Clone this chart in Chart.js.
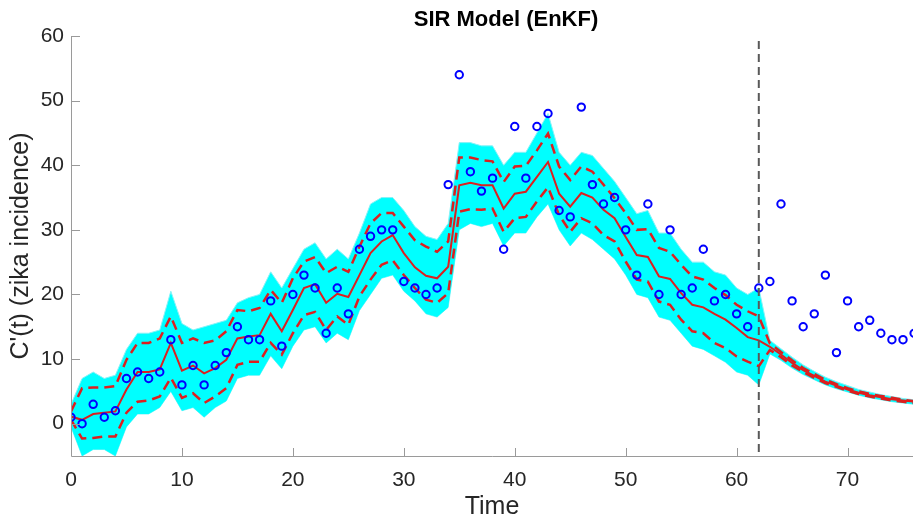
<!DOCTYPE html>
<html>
<head>
<meta charset="utf-8">
<title>SIR Model (EnKF)</title>
<script src="https://cdn.jsdelivr.net/npm/chart.js@4.4.0/dist/chart.umd.min.js"></script>
<style>
  html, body { margin: 0; padding: 0; background: #fff; overflow: hidden; }
  #wrap { width: 913px; height: 523px; }
</style>
</head>
<body>
<div id="wrap"><canvas id="sirChart"></canvas></div>
<script>
// ─── DATA ────────────────────────────────────
const days = [
   0,  1,  2,  3,  4,  5,  6,  7,  8,  9, 10, 11, 12, 13, 14, 15, 16, 17, 18, 19,
  20, 21, 22, 23, 24, 25, 26, 27, 28, 29, 30, 31, 32, 33, 34, 35, 36, 37, 38, 39,
  40, 41, 42, 43, 44, 45, 46, 47, 48, 49, 50, 51, 52, 53, 54, 55, 56, 57, 58, 59,
  60, 61, 62, 63, 64, 65, 66, 67, 68, 69, 70, 71, 72, 73, 74, 75, 76
];

// observed zika incidence (blue circles)
const observed = [
   1,  0,  3,  1,  2,  7,  8,  7,  8, 13,  6,  9,  6,  9, 11, 15, 13, 13, 19, 12,
  20, 23, 21, 14, 21, 17, 27, 29, 30, 30, 22, 21, 20, 21, 37, 54, 39, 36, 38, 27,
  46, 38, 46, 48, 33, 32, 49, 37, 34, 35, 30, 23, 34, 20, 30, 20, 21, 27, 19, 20,
  17, 15, 21, 22, 34, 19, 15, 17, 23, 11, 19, 15, 16, 14, 13, 13, 14
];

// ensemble mean (solid red)
const ensMean = [
   1.1,  0.6,  1.5,  1.7,  1.9,  5.3,  8.0,  8.0,  8.4, 12.5,  8.2,  9.0,  7.8,  8.6,  9.9, 13.2, 13.5, 13.7, 17.0, 14.3,
  17.6, 21.0, 21.6, 18.7, 20.1, 19.6, 23.0, 26.4, 28.2, 29.2, 26.4, 24.2, 22.9, 22.5, 24.3, 36.9, 37.3, 36.9, 36.9, 33.3,
  35.6, 35.9, 38.2, 40.5, 35.6, 33.6, 35.7, 35.0, 33.1, 31.8, 28.9, 26.1, 25.8, 22.8, 22.4, 20.2, 18.4, 18.0, 17.0, 16.1,
  14.8, 13.4, 12.9, 11.9, 10.7,  9.4,  8.3,  7.4,  6.5,  5.9,  5.3,  4.8,  4.4,  4.1,  3.8,  3.6,  3.4
];

// confidence bounds (dashed red)
const ensUpper = [
   1.9,  5.5,  5.6,  5.6,  5.8,  9.9, 12.5, 12.5, 13.2, 16.6, 12.5, 13.2, 12.5, 12.9, 14.3, 17.6, 17.4, 17.9, 20.7, 18.7,
  22.5, 25.1, 25.8, 23.3, 24.3, 23.5, 27.4, 31.0, 32.6, 32.6, 30.5, 28.4, 27.4, 26.6, 28.2, 41.2, 41.2, 40.8, 40.6, 37.4,
  39.8, 39.9, 42.3, 44.9, 39.8, 37.7, 39.8, 39.0, 37.0, 34.9, 32.6, 30.0, 30.1, 27.2, 26.6, 24.6, 22.8, 22.3, 21.0, 19.9,
  18.4, 17.4, 16.6, 12.4, 11.1,  9.8,  8.6,  7.7,  6.8,  6.1,  5.5,  5.0,  4.6,  4.3,  4.0,  3.7,  3.5
];
const ensLower = [
   0.6, -2.3, -2.2, -2.0, -2.0,  1.7,  3.4,  3.6,  4.2,  7.1,  4.0,  4.7,  3.2,  4.2,  5.5,  9.1,  9.6,  9.6, 12.5, 10.7,
  14.0, 16.8, 17.3, 14.5, 16.6, 15.3, 19.7, 22.3, 24.6, 25.3, 23.0, 21.0, 19.2, 18.7, 20.2, 32.8, 33.2, 33.1, 33.3, 29.7,
  31.8, 32.0, 34.4, 36.6, 32.3, 29.7, 31.8, 31.0, 29.2, 28.2, 25.1, 22.3, 22.0, 18.9, 18.4, 16.1, 14.3, 14.0, 12.5, 11.7,
  10.4,  9.6,  8.9, 11.4, 10.3,  9.0,  8.0,  7.1,  6.3,  5.7,  5.1,  4.6,  4.2,  3.9,  3.6,  3.4,  3.2
];

// outer envelope of the ensemble members (cyan)
const ensMax = [
   3.0,  7.0,  8.0,  7.0,  7.5, 11.5, 14.0, 14.0, 14.5, 20.5, 15.5, 14.5, 15.0, 15.5, 16.0, 18.7, 19.5, 20.0, 23.5, 21.0,
  24.0, 27.0, 28.0, 25.5, 27.0, 25.5, 29.5, 34.0, 35.0, 35.0, 33.0, 30.5, 29.0, 28.5, 31.0, 43.5, 43.5, 43.0, 43.0, 40.0,
  42.0, 42.0, 45.0, 48.0, 42.0, 40.0, 42.0, 41.5, 39.5, 37.5, 35.0, 32.5, 33.0, 29.5, 29.5, 27.0, 25.0, 25.0, 23.5, 23.0,
  21.0, 20.0, 21.0, 12.9, 11.6, 10.3,  9.1,  8.1,  7.2,  6.5,  5.9,  5.3,  4.9,  4.5,  4.2,  3.9,  3.7
];
const ensMin = [
  -0.5, -5.0, -4.0, -4.0, -5.0, -0.5,  1.5,  1.5,  2.5,  5.0,  2.0,  2.5,  1.0,  2.5,  3.5,  7.0,  7.5,  7.5, 10.5,  8.5,
  12.0, 14.5, 15.0, 12.5, 14.0, 13.0, 17.5, 20.0, 22.5, 23.0, 20.5, 19.0, 17.0, 16.5, 18.0, 30.0, 31.0, 30.5, 31.0, 27.5,
  29.5, 29.5, 32.0, 34.0, 30.0, 27.5, 29.5, 28.5, 27.0, 25.5, 23.0, 20.0, 19.5, 16.5, 16.0, 14.0, 12.0, 11.5, 10.5,  9.5,
   8.0,  7.5,  6.0, 10.8,  9.8,  8.6,  7.6,  6.8,  6.0,  5.4,  4.9,  4.4,  4.0,  3.7,  3.4,  3.2,  3.0
];

const forecastStart = 62;
const xTicks = [0, 10, 20, 30, 40, 50, 60, 70];
const yTicks = [0, 10, 20, 30, 40, 50, 60];

// ─── CHART ───────────────────────────────────
const FONT = "'Liberation Sans', Arial, Helvetica, sans-serif";
const RED = '#DD1F1F';

const pts = arr => arr.map((v, i) => ({ x: days[i], y: v }));

// matlab-ish axes: inward ticks, left/bottom lines, forecast marker, title
const axisDecor = {
  id: 'axisDecor',
  afterDatasetsDraw(chart) {
    const { ctx, chartArea: a, scales: { x, y } } = chart;
    ctx.save();
    const fx = x.getPixelForValue(forecastStart);
    ctx.strokeStyle = '#595959';
    ctx.lineWidth = 2;
    ctx.setLineDash([8, 5]);
    ctx.beginPath();
    ctx.moveTo(fx, a.top + 5);
    ctx.lineTo(fx, a.bottom);
    ctx.stroke();

    ctx.setLineDash([]);
    ctx.strokeStyle = '#9a9a9a';
    ctx.lineWidth = 1;
    ctx.beginPath();
    ctx.moveTo(a.left + 0.5, a.top);
    ctx.lineTo(a.left + 0.5, a.bottom + 0.5);
    ctx.lineTo(a.right, a.bottom + 0.5);
    xTicks.forEach(v => {
      const px = Math.round(x.getPixelForValue(v)) + 0.5;
      ctx.moveTo(px, a.bottom);
      ctx.lineTo(px, a.bottom - 8);
    });
    yTicks.forEach(v => {
      const py = Math.round(y.getPixelForValue(v)) + 0.5;
      ctx.moveTo(a.left, py);
      ctx.lineTo(a.left + 9, py);
    });
    ctx.stroke();
    ctx.restore();
  },
  afterDraw(chart) {
    const { ctx, chartArea: a } = chart;
    ctx.save();
    ctx.fillStyle = '#000';
    ctx.font = `bold 22px ${FONT}`;
    ctx.textAlign = 'center';
    ctx.textBaseline = 'middle';
    // the original axes run on past the cropped right edge
    ctx.fillText('SIR Model (EnKF)', (a.left + a.right) / 2 + 14, 20);
    ctx.restore();
  }
};

const ctx = document.getElementById('sirChart').getContext('2d');
new Chart(ctx, {
  type: 'line',
  data: {
    datasets: [
      {
        label: 'Observed',
        data: pts(observed),
        showLine: false,
        pointRadius: 3.7,
        pointBorderWidth: 2,
        pointBorderColor: '#0000FF',
        pointBackgroundColor: 'rgba(0,0,0,0)',
        clip: 0,
        order: 0,
      },
      {
        label: 'Mean',
        data: pts(ensMean),
        borderColor: RED,
        borderWidth: 2,
        pointRadius: 0,
        tension: 0,
        clip: 0,
        order: 1,
      },
      {
        label: 'Upper',
        data: pts(ensUpper),
        borderColor: RED,
        borderWidth: 2.5,
        borderDash: [10, 6],
        pointRadius: 0,
        clip: 0,
        order: 2,
      },
      {
        label: 'Lower',
        data: pts(ensLower),
        borderColor: RED,
        borderWidth: 2.5,
        borderDash: [10, 6],
        pointRadius: 0,
        clip: 0,
        order: 2,
      },
      {
        label: 'Ensemble max',
        data: pts(ensMax),
        borderColor: '#86F2F7',
        borderWidth: 1,
        backgroundColor: '#00FFFF',
        fill: '+1',
        pointRadius: 0,
        clip: 0,
        order: 5,
      },
      {
        label: 'Ensemble min',
        data: pts(ensMin),
        borderColor: '#86F2F7',
        borderWidth: 1,
        pointRadius: 0,
        clip: 0,
        order: 5,
      },
    ]
  },
  options: {
    responsive: true,
    maintainAspectRatio: false,
    animation: false,
    layout: { autoPadding: false, padding: { top: 36, right: 0, left: 0, bottom: 0 } },
    plugins: {
      legend: { display: false },
      tooltip: { enabled: false },
      title: { display: false },
    },
    scales: {
      x: {
        type: 'linear',
        min: 0,
        max: 75.9,
        afterBuildTicks: s => { s.ticks = xTicks.map(v => ({ value: v })); },
        afterFit: s => { s.height = 67; s.paddingLeft = 0; s.paddingRight = 0; },
        grid: { display: false, drawTicks: false },
        border: { display: false },
        ticks: { color: '#262626', padding: 12, maxRotation: 0, font: { family: FONT, size: 21 } },
        title: {
          display: true,
          text: 'Time',
          color: '#262626',
          padding: { top: 0, bottom: 1 },
          font: { family: FONT, size: 25 },
        },
      },
      y: {
        min: -5,
        max: 60,
        afterBuildTicks: s => { s.ticks = yTicks.map(v => ({ value: v })); },
        afterFit: s => { s.width = 71; s.paddingTop = 0; s.paddingBottom = 0; },
        grid: { display: false, drawTicks: false },
        border: { display: false },
        ticks: { color: '#262626', padding: 7, font: { family: FONT, size: 21 } },
        title: {
          display: true,
          text: "C'(t) (zika incidence)",
          color: '#262626',
          padding: { top: 6, bottom: 0 },
          font: { family: FONT, size: 25 },
        },
      },
    },
  },
  plugins: [axisDecor],
});
</script>
</body>
</html>
